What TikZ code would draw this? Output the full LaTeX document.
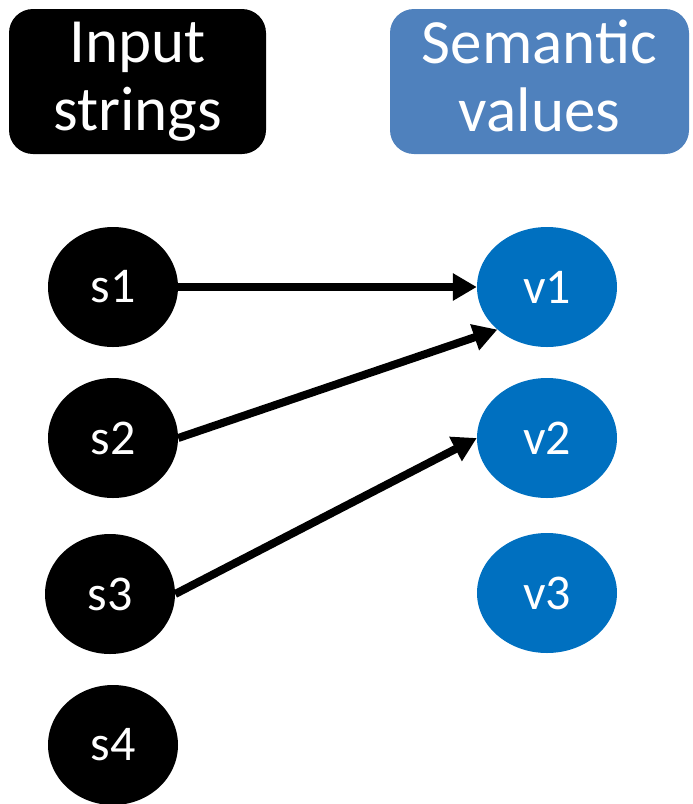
\documentclass[tikz,border=0pt]{standalone}
\usepackage{fontspec}
\setmainfont{Carlito}
\usetikzlibrary{arrows.meta,positioning,shapes.geometric}
\definecolor{headblue}{HTML}{4F81BD}
\definecolor{valblue}{HTML}{0070C0}
\newcommand{\headfont}{\fontsize{63}{68}\selectfont}
\newcommand{\nodefont}{\fontsize{50}{60}\selectfont}

\begin{document}
\begin{tikzpicture}[x=1pt, y=1pt,
    head/.style={rectangle, rounded corners=24pt, inner sep=0pt, minimum height=145pt, text=white, align=center, font=\headfont},
    str/.style={ellipse, fill=black, inner sep=0pt, minimum width=130pt, minimum height=120pt, text=white, font=\nodefont},
    val/.style={ellipse, fill=valblue, inner sep=0pt, minimum width=140pt, minimum height=120pt, text=white, font=\nodefont},
    map/.style={draw, line width=8pt, -{Triangle[length=24pt,width=26pt]}}]
        \useasboundingbox (0,0) rectangle (693,-804);
        %headers
        \node[head, fill=black, minimum width=257pt] (inhead) at (137.5,-81.5) {Input\\strings};
        \node[head, fill=headblue, minimum width=299pt] (valhead) at (539.5,-81.5) {Semantic\\values\vphantom{g}};
        %nodes
        \node[str] (s1) at (113,-287) {s1};
        \node[str] (s2) at (113,-438) {s2};
        \node[str] (s3) at (110,-594) {s3};
        \node[str] (s4) at (113,-745) {s4};
        \node[val] (v1) at (547,-287) {v1};
        \node[val] (v2) at (547,-438) {v2};
        \node[val] (v3) at (547,-593) {v3};
        %edges
        \path [map] (s1) to (v1);
        \path [map] (s2.east) to (v1.south west);
        \path [map] (s3.east) to (v2.west);
\end{tikzpicture}
\end{document}
